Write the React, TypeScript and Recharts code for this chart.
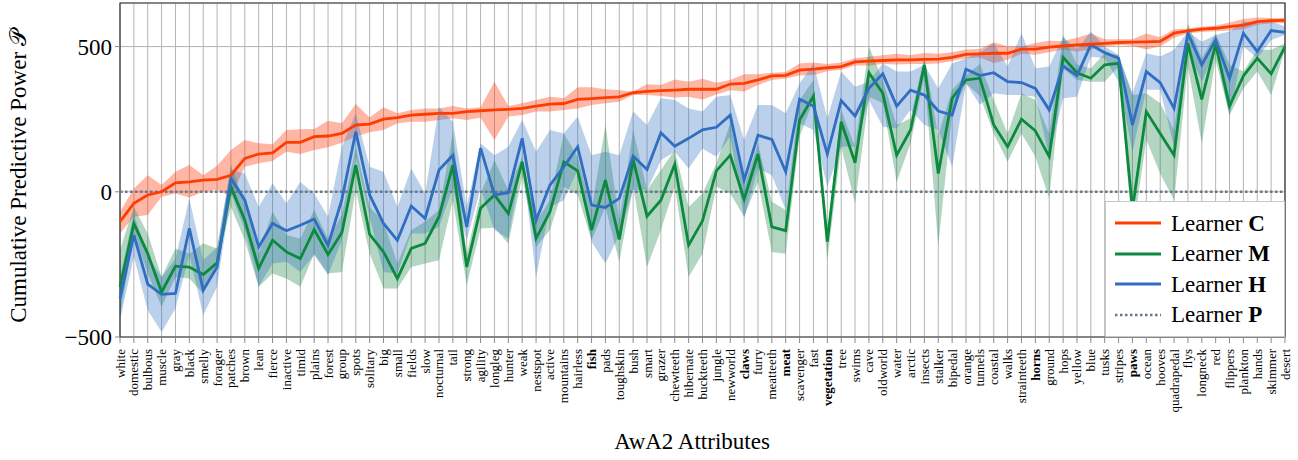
import React from "react";
import {
  Area,
  CartesianGrid,
  ComposedChart,
  Line,
  ReferenceArea,
  XAxis,
  YAxis,
} from "recharts";

const attributes = [
  "white", "domestic", "bulbous", "muscle", "gray", "black", "smelly", "forager", "patches", "brown",
  "lean", "fierce", "inactive", "timid", "plains", "forest", "group", "spots", "solitary", "big",
  "small", "fields", "slow", "nocturnal", "tail", "strong", "agility", "longleg", "hunter", "weak",
  "nestspot", "active", "mountains", "hairless", "fish", "pads", "toughskin", "bush", "smart", "grazer",
  "chewteeth", "hibernate", "buckteeth", "jungle", "newworld", "claws", "furry", "meatteeth", "meat", "scavenger",
  "fast", "vegetation", "tree", "swims", "cave", "oldworld", "water", "arctic", "insects", "stalker",
  "bipedal", "orange", "tunnels", "coastal", "walks", "strainteeth", "horns", "ground", "hops", "yellow",
  "blue", "tusks", "stripes", "paws", "ocean", "hooves", "quadrapedal", "flys", "longneck", "red",
  "flippers", "plankton", "hands", "skimmer", "desert",
];

const boldAttributes = ["fish", "claws", "meat", "vegetation", "horns", "paws"];

// Learner C
const cMean = [
  -103, -40, -11, 0, 31, 34, 40, 43, 57, 115, 130, 134, 170, 170, 190, 192, 201, 230, 233, 250, 255,
  264, 267, 270, 270, 276, 279, 282, 284, 287, 295, 302, 304, 318, 321, 324, 327, 341, 346, 348, 350, 353,
  353, 353, 371, 373, 385, 399, 401, 419, 422, 427, 431, 447, 450, 452, 454, 454, 456, 457, 463, 473, 475,
  477, 477, 491, 491, 498, 502, 506, 508, 511, 514, 515, 516, 518, 546, 554, 560, 563, 569, 574, 586, 589, 590,
];
const cHigh = [
  -69, 11, 57, 23, 69, 92, 57, 90, 144, 178, 167, 164, 213, 215, 216, 245, 236, 302, 256, 291, 270,
  282, 287, 287, 295, 287, 291, 379, 295, 305, 316, 327, 322, 360, 360, 353, 350, 345, 370, 368, 387, 379,
  389, 375, 385, 405, 405, 410, 412, 442, 445, 440, 445, 460, 465, 470, 475, 470, 478, 475, 480, 490, 492,
  515, 500, 500, 512, 520, 518, 530, 545, 525, 525, 525, 545, 532, 560, 562, 568, 572, 583, 595, 600, 598, 598,
];
const cLow = [
  -144, -86, -80, -17, -6, -20, 0, 6, -17, 86, 98, 106, 138, 130, 144, 153, 169, 190, 205, 213, 236,
  241, 241, 247, 253, 247, 255, 178, 259, 264, 276, 276, 282, 287, 299, 305, 310, 333, 333, 330, 325, 327,
  318, 335, 350, 345, 368, 385, 390, 400, 402, 415, 420, 435, 435, 440, 438, 440, 440, 442, 450, 460, 462,
  443, 455, 475, 472, 480, 490, 483, 490, 500, 505, 503, 490, 500, 530, 545, 550, 553, 555, 560, 575, 580, 580,
];

// Learner M
const mMean = [
  -327, -109, -213, -345, -256, -259, -285, -245, 17, -98, -264, -167, -207, -230, -130, -216, -140, 92, -147, -207, -299,
  -195, -178, -86, 92, -259, -57, -11, -75, 103, -161, -69, 103, 72, -132, 40, -164, 111, -84, -29, 95, -184,
  -100, 72, 126, -26, 130, -121, -134, 247, 330, -172, 241, 100, 410, 339, 126, 213, 437, 63, 322, 385, 391,
  230, 155, 250, 210, 121, 463, 410, 391, 437, 442, -60, 276, 201, 126, 511, 318, 508, 295, 399, 460, 406, 500,
];
const mHigh = [
  -200, -52, -144, -293, -195, -213, -178, -195, 92, -40, -213, -69, -149, -161, -63, -161, -80, 155, -52, -103, -247,
  -132, -103, -63, 201, -213, -6, 109, 6, 121, -103, -29, 201, 121, -63, 230, -98, 213, 6, 75, 144, -52,
  -6, 98, 236, 17, 167, -34, -63, 316, 385, -144, 282, 155, 500, 385, 230, 253, 466, 195, 351, 402, 440,
  316, 201, 339, 316, 201, 540, 437, 425, 477, 471, 333, 339, 305, 213, 580, 460, 546, 437, 414, 489, 489, 511,
];
const mLow = [
  -431, -144, -281, -396, -293, -299, -350, -247, -52, -167, -327, -281, -299, -327, -213, -281, -276, 6, -213, -333, -333,
  -259, -247, -236, -29, -322, -126, -124, -178, 52, -190, -132, 17, -11, -167, -52, -241, 17, -259, -132, 17, -293,
  -213, 17, -6, -86, 34, -207, -213, 190, 316, -236, 155, -40, 327, 305, 34, 167, 396, -184, 270, 373, 330,
  201, 103, 201, 121, -23, 425, 385, 379, 379, 431, -150, 178, 63, -29, 431, 167, 454, 264, 356, 414, 333, 489,
];

// Learner H
const hMean = [
  -368, -149, -318, -353, -350, -126, -339, -259, 46, -29, -190, -109, -134, -115, -94, -184, -26, 207, -11, -109, -167,
  -49, -92, 75, 126, -121, 150, -11, -3, 184, -98, 23, 86, 155, -46, -54, -23, 123, 77, 203, 157, 184,
  213, 222, 264, 40, 195, 180, 69, 319, 295, 130, 314, 261, 356, 406, 295, 350, 333, 278, 264, 422, 400,
  410, 379, 376, 356, 282, 433, 400, 506, 479, 460, 230, 414, 376, 287, 546, 437, 523, 391, 546, 483, 555, 549,
];
const hHigh = [
  -293, -75, -224, -293, -230, -23, -236, -190, 75, 63, -52, 29, -40, 34, -6, -86, 155, 270, 86, 69, -52,
  80, -6, 293, 241, -52, 167, 126, 155, 247, 138, 213, 201, 259, 126, 138, 126, 276, 230, 322, 316, 287,
  276, 327, 333, 178, 299, 299, 270, 373, 442, 253, 414, 362, 379, 442, 414, 414, 437, 356, 442, 460, 480,
  511, 431, 546, 425, 431, 534, 489, 552, 500, 471, 339, 477, 466, 489, 552, 517, 540, 552, 586, 580, 586, 569,
];
const hLow = [
  -442, -224, -408, -483, -402, -218, -425, -327, -6, -132, -327, -247, -241, -276, -218, -287, -167, 121, -86, -276, -281,
  -144, -144, -121, 11, -167, 11, -132, -161, 109, -293, -52, -29, 75, -172, -247, -149, 6, 6, 109, 138, 80,
  149, 121, 190, -92, 80, 57, -63, 236, 213, 17, 155, 155, 316, 224, 218, 282, 230, 213, 86, 373, 300,
  339, 333, 333, 327, 121, 322, 327, 465, 460, 379, 138, 351, 351, 155, 489, 379, 489, 259, 500, 460, 523, 540,
];

const yTicks = [-500, 0, 500];

const data = attributes.map((name, i) => ({
  name,
  c: cMean[i],
  cBand: [cLow[i], cHigh[i]],
  m: mMean[i],
  mBand: [mLow[i], mHigh[i]],
  h: hMean[i],
  hBand: [hLow[i], hHigh[i]],
  p: 0,
}));

const FONT = "Liberation Serif, Times New Roman, serif";
const C_COLOR = "#ff3c00";
const M_COLOR = "#0b8a3e";
const H_COLOR = "#2f6ec0";
const P_COLOR = "#667a88";

const AttrTick = (props: any) => {
  const { x, y, payload } = props;
  const bold = boldAttributes.includes(payload.value);
  return (
    <text
      x={x}
      y={y}
      transform={`rotate(-90 ${x} ${y})`}
      textAnchor="end"
      dominantBaseline="central"
      fontSize={13}
      fontWeight={bold ? 700 : 400}
      fontFamily={FONT}
      fill="#000"
    >
      {payload.value}
    </text>
  );
};

const YTitle = (props: any) => {
  const { viewBox } = props;
  const x = 18;
  const y = viewBox.y + viewBox.height / 2 + 6;
  return (
    <text
      x={x}
      y={y}
      transform={`rotate(-90 ${x} ${y})`}
      textAnchor="middle"
      dominantBaseline="central"
      fontSize={23}
      fontFamily={FONT}
      fill="#000"
    >
      Cumulative Predictive Power 𝒫
    </text>
  );
};

const XTitle = () => (
  <text x={692} y={441} textAnchor="middle" dominantBaseline="central" fontSize={23} fontFamily={FONT} fill="#000">
    AwA2 Attributes
  </text>
);

const legendItems = [
  { letter: "C", color: C_COLOR, dotted: false },
  { letter: "M", color: M_COLOR, dotted: false },
  { letter: "H", color: H_COLOR, dotted: false },
  { letter: "P", color: P_COLOR, dotted: true },
];

function LegendBox() {
  return (
    <div
      style={{
        position: "absolute",
        left: 1105,
        top: 201,
        width: 180,
        height: 136,
        boxSizing: "border-box",
        border: "1px solid #c8c8c8",
        background: "#fff",
        paddingTop: 6,
        fontFamily: FONT,
        fontSize: 23,
      }}
    >
      {legendItems.map((it) => (
        <div key={it.letter} style={{ display: "flex", alignItems: "center", height: 30.5 }}>
          <svg width={56} height={10} style={{ marginLeft: 9 }}>
            <line
              x1={0}
              x2={46}
              y1={5}
              y2={5}
              stroke={it.color}
              strokeWidth={it.dotted ? 2.5 : 3}
              strokeDasharray={it.dotted ? "2.5 2.5" : undefined}
            />
          </svg>
          <span style={{ lineHeight: 1, fontFamily: FONT }}>
            Learner <b>{it.letter}</b>
          </span>
        </div>
      ))}
    </div>
  );
}

export default function App() {
  return (
    <div style={{ position: "absolute", left: 0, top: 0, width: 1298, height: 460, background: "#fff" }}>
      <ComposedChart width={1298} height={460} data={data} margin={{ top: 3, right: 13, left: 0, bottom: 0 }}>
        <CartesianGrid stroke="#b4b4b4" strokeWidth={1} />
        <XAxis
          dataKey="name"
          interval={0}
          height={123}
          tick={<AttrTick />}
          tickSize={6}
          tickMargin={6}
          tickLine={{ stroke: "#888" }}
          axisLine={false}
          label={<XTitle />}
        />
        <YAxis
          width={120}
          domain={[-500, 650]}
          ticks={yTicks}
          allowDataOverflow
          axisLine={false}
          tickSize={5}
          tickMargin={3}
          tickLine={{ stroke: "#888" }}
          tick={{ fontSize: 23, fontFamily: FONT, fill: "#000" }}
          tickFormatter={(v: number) => (v < 0 ? `\u2212${-v}` : `${v}`)}
          label={<YTitle />}
        />
        <Area type="linear" dataKey="cBand" stroke="none" fill="#ff4010" fillOpacity={0.38} isAnimationActive={false} />
        <Area type="linear" dataKey="mBand" stroke="none" fill="#108040" fillOpacity={0.32} isAnimationActive={false} />
        <Area type="linear" dataKey="hBand" stroke="none" fill="#3070c0" fillOpacity={0.33} isAnimationActive={false} />
        <Line type="linear" dataKey="p" stroke={P_COLOR} strokeWidth={2.5} strokeDasharray="2.5 2.5" dot={false} isAnimationActive={false} />
        <Line type="linear" dataKey="m" stroke={M_COLOR} strokeWidth={2.8} dot={false} isAnimationActive={false} />
        <Line type="linear" dataKey="h" stroke={H_COLOR} strokeWidth={2.8} dot={false} isAnimationActive={false} />
        <Line type="linear" dataKey="c" stroke={C_COLOR} strokeWidth={2.8} dot={false} isAnimationActive={false} />
        <ReferenceArea
          x1={attributes[0]}
          x2={attributes[attributes.length - 1]}
          y1={-500}
          y2={650}
          fill="none"
          stroke="#333"
          strokeWidth={1.2}
          ifOverflow="visible"
        />
      </ComposedChart>
      <LegendBox />
    </div>
  );
}
